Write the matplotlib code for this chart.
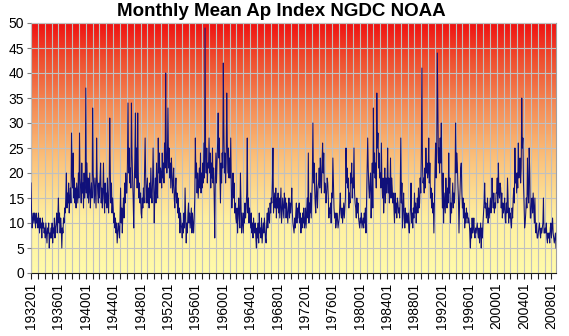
import numpy as np
import matplotlib
matplotlib.use("Agg")
import matplotlib.pyplot as plt
from matplotlib.colors import LinearSegmentedColormap

plt.rcParams["font.family"] = ["Liberation Sans", "DejaVu Sans"]

# monthly mean Ap (one row per year, Jan..Dec)
ap_1930s = [
    18, 12, 9, 11, 12, 10, 12, 11, 9, 12, 10, 11,     # 1932
    9, 12, 10, 8, 11, 9, 10, 7, 11, 9, 10, 8,         # 1933
    9, 7, 10, 8, 6, 9, 8, 10, 5, 8, 7, 9,             # 1934
    7, 10, 6, 9, 8, 11, 7, 9, 10, 12, 8, 11,          # 1935
    15, 10, 12, 8, 11, 9, 5, 9, 8, 11, 10, 13,        # 1936
    12, 15, 20, 13, 16, 14, 18, 12, 15, 17, 14, 28,   # 1937
    20, 17, 24, 15, 19, 14, 17, 13, 18, 16, 14, 20,   # 1938
    15, 28, 19, 17, 14, 22, 16, 18, 13, 20, 15, 17,   # 1939
]
ap_1940s = [
    37, 16, 22, 15, 19, 14, 17, 20, 13, 16, 18, 15,   # 1940
    33, 20, 17, 14, 19, 16, 13, 27, 19, 16, 14, 18,   # 1941
    15, 19, 22, 14, 17, 13, 16, 22, 15, 12, 18, 14,   # 1942
    16, 13, 19, 15, 12, 17, 31, 20, 14, 18, 12, 15,   # 1943
    13, 10, 12, 9, 11, 8, 10, 6, 8, 10, 9, 7,         # 1944
    11, 17, 10, 13, 8, 12, 15, 11, 18, 14, 20, 16,    # 1945
    16, 22, 34, 20, 25, 18, 21, 17, 34, 24, 19, 15,   # 1946
    9, 18, 23, 32, 19, 25, 17, 32, 20, 15, 18, 14,    # 1947
    16, 12, 11, 15, 13, 17, 14, 20, 27, 19, 14, 17,   # 1948
    19, 14, 17, 13, 18, 15, 21, 16, 14, 18, 25, 17,   # 1949
]
ap_1950s = [
    10, 16, 19, 14, 22, 17, 15, 27, 20, 24, 18, 21,   # 1950
    20, 17, 24, 19, 22, 18, 26, 21, 40, 25, 20, 23,   # 1951
    33, 21, 25, 19, 22, 17, 23, 20, 16, 18, 21, 15,   # 1952
    13, 17, 19, 14, 16, 12, 15, 11, 13, 8, 12, 10,    # 1953
    9, 7, 10, 8, 12, 9, 17, 11, 6, 10, 8, 12,         # 1954
    14, 10, 12, 9, 11, 13, 8, 12, 10, 8, 11, 15,      # 1955
    27, 19, 22, 16, 20, 15, 18, 21, 17, 24, 16, 20,   # 1956
    17, 22, 18, 26, 19, 49, 23, 20, 25, 18, 22, 21,   # 1957
    27, 20, 24, 17, 22, 19, 25, 18, 21, 15, 7, 19,    # 1958
    24, 18, 22, 26, 32, 23, 27, 20, 14, 22, 18, 24,   # 1959
]
ap_1960s = [
    21, 42, 28, 20, 24, 18, 22, 36, 26, 20, 25, 19,   # 1960
    23, 19, 27, 18, 13, 16, 20, 15, 18, 12, 14, 11,   # 1961
    10, 13, 8, 12, 15, 11, 9, 20, 14, 8, 12, 10,      # 1962
    8, 12, 10, 14, 11, 13, 16, 27, 12, 15, 10, 13,    # 1963
    11, 9, 12, 8, 10, 7, 11, 9, 8, 10, 7, 5,          # 1964
    9, 7, 10, 6, 12, 8, 9, 7, 11, 6, 8, 10,           # 1965
    8, 11, 9, 7, 6, 10, 12, 9, 13, 11, 10, 14,        # 1966
    12, 15, 14, 18, 25, 12, 14, 16, 13, 17, 11, 15,   # 1967
    13, 16, 12, 15, 11, 14, 17, 10, 12, 15, 13, 11,   # 1968
    16, 13, 15, 11, 14, 12, 10, 13, 15, 11, 14, 12,   # 1969
]
ap_1970s = [
    14, 17, 12, 10, 9, 8, 11, 9, 12, 14, 10, 13,      # 1970
    11, 13, 14, 10, 12, 8, 11, 9, 12, 10, 13, 9,      # 1971
    10, 13, 9, 12, 15, 11, 24, 10, 14, 12, 16, 11,    # 1972
    15, 19, 30, 18, 22, 17, 14, 12, 20, 16, 13, 17,   # 1973
    18, 21, 17, 23, 19, 16, 22, 26, 20, 24, 16, 18,   # 1974
    17, 14, 16, 19, 18, 15, 11, 13, 12, 14, 10, 16,   # 1975
    15, 23, 18, 13, 11, 12, 9, 10, 12, 11, 9, 10,     # 1976
    11, 13, 16, 12, 11, 13, 10, 12, 14, 11, 13, 15,   # 1977
    25, 18, 21, 17, 19, 13, 16, 14, 20, 18, 22, 15,   # 1978
    19, 17, 25, 16, 14, 13, 11, 15, 12, 14, 11, 10,   # 1979
]
ap_1980s = [
    9, 11, 10, 12, 9, 10, 11, 9, 12, 10, 13, 8,       # 1980
    14, 19, 27, 21, 17, 15, 18, 20, 11, 16, 22, 13,   # 1981
    33, 20, 24, 19, 22, 17, 36, 25, 28, 21, 24, 19,   # 1982
    20, 17, 26, 18, 15, 19, 12, 16, 21, 14, 19, 16,   # 1983
    18, 25, 16, 19, 14, 17, 23, 15, 19, 17, 14, 16,   # 1984
    13, 10, 16, 12, 14, 11, 15, 14, 12, 13, 11, 16,   # 1985
    27, 14, 18, 9, 13, 16, 11, 9, 13, 10, 12, 11,     # 1986
    10, 12, 9, 8, 11, 13, 18, 10, 12, 9, 13, 11,      # 1987
    16, 12, 14, 10, 13, 15, 12, 17, 13, 14, 19, 16,   # 1988
    24, 41, 22, 18, 19, 16, 21, 17, 25, 20, 22, 19,   # 1989
]
ap_1990s = [
    20, 27, 18, 22, 15, 17, 13, 16, 12, 14, 8, 15,    # 1990
    21, 26, 19, 24, 44, 32, 22, 25, 20, 27, 22, 30,   # 1991
    18, 13, 20, 10, 16, 14, 12, 19, 15, 13, 17, 14,   # 1992
    24, 16, 19, 10, 14, 12, 15, 18, 13, 16, 14, 17,   # 1993
    30, 20, 24, 22, 18, 15, 8, 14, 17, 21, 22, 16,    # 1994
    13, 15, 11, 14, 9, 12, 10, 13, 11, 12, 10, 11,    # 1995
    10, 8, 5, 9, 7, 11, 8, 9, 11, 8, 7, 9,            # 1996
    8, 9, 10, 8, 7, 9, 6, 8, 10, 5, 9, 7,             # 1997
    10, 12, 14, 18, 13, 14, 11, 12, 15, 10, 13, 11,   # 1998
    13, 15, 12, 14, 19, 15, 13, 16, 12, 14, 13, 16,   # 1999
]
ap_2000s = [
    16, 19, 14, 22, 16, 15, 18, 17, 13, 16, 11, 14,   # 2000
    12, 13, 15, 11, 10, 14, 12, 19, 15, 10, 13, 11,   # 2001
    12, 10, 9, 13, 11, 15, 17, 14, 25, 18, 20, 16,    # 2002
    20, 17, 26, 19, 22, 23, 18, 21, 35, 25, 27, 18,   # 2003
    14, 9, 10, 12, 15, 13, 23, 16, 14, 25, 20, 11,    # 2004
    11, 14, 15, 12, 16, 13, 10, 15, 9, 8, 10, 7,      # 2005
    7, 8, 9, 10, 8, 7, 9, 8, 9, 10, 15, 8,            # 2006
    8, 9, 8, 10, 7, 6, 8, 7, 8, 6, 9, 10,             # 2007
    7, 9, 11, 8, 7, 6, 7, 8, 5,                       # 2008 (Jan..Sep)
]

ap = np.array(ap_1930s + ap_1940s + ap_1950s + ap_1960s + ap_1970s
              + ap_1980s + ap_1990s + ap_2000s, dtype=float)
first_year = 1932
months = [f"{first_year + i // 12}{i % 12 + 1:02d}" for i in range(len(ap))]

fig = plt.figure(figsize=(5.69, 3.36), dpi=100)
ax = fig.add_axes([31 / 569, 1 - 273 / 336, 525 / 569, 250 / 336])

# red (top) to pale yellow (bottom) background
cmap = LinearSegmentedColormap.from_list(
    "bg", [(0.0, "#fffbaa"), (0.22, "#fff0a0"), (0.45, "#fbc37c"),
           (0.65, "#f5915a"), (0.85, "#ef5030"), (1.0, "#f01212")])
grad = np.linspace(0, 1, 256).reshape(-1, 1)
x = np.arange(len(ap))
ax.imshow(grad, cmap=cmap, origin="lower", aspect="auto",
          extent=[0, len(ap) - 1, 0, 50], zorder=0)

ax.plot(x, ap, color="#10107a", lw=0.75, zorder=3)

ax.set_xlim(0, len(ap) - 1)
ax.set_ylim(0, 50)
ax.set_yticks(np.arange(0, 51, 5))
ax.set_xticks(x[::12], minor=False)
ax.set_xticklabels([m if i % 48 == 0 else "" for i, m in zip(x[::12], months[::12])],
                   rotation=90)
ax.tick_params(axis="x", length=4, width=0.8, labelsize=10, pad=3, color="#202020")
ax.tick_params(axis="y", length=3, width=0.8, labelsize=10, pad=2, color="#808080")
ax.grid(True, color="#c0c0c0", lw=0.8, zorder=1)
ax.set_axisbelow(False)
for line in ax.get_xgridlines() + ax.get_ygridlines():
    line.set_zorder(1)

for side in ["top", "right"]:
    ax.spines[side].set_color("#a0a0a0")
    ax.spines[side].set_linewidth(0.8)
ax.spines["left"].set_color("#808080")
ax.spines["bottom"].set_color("#202020")

fig.text(0.495, 0.99, "Monthly Mean Ap Index NGDC NOAA", ha="center", va="top",
         fontsize=13.5, fontweight="bold")

fig.savefig("out.png", dpi=100)
